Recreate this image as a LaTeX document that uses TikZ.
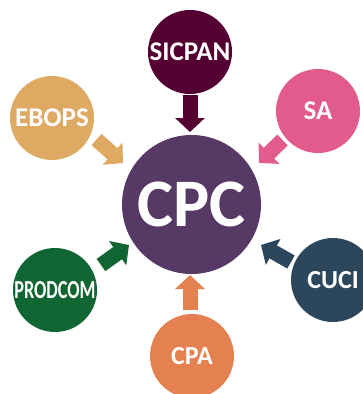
\documentclass[tikz,border=0pt]{standalone}
\usepackage{fontspec}
\setmainfont{Carlito}
\usetikzlibrary{arrows.meta}
\definecolor{cSicpan}{HTML}{540032}
\definecolor{cEbops}{HTML}{DDA963}
\definecolor{cSa}{HTML}{E15B8C}
\definecolor{cCpc}{HTML}{573966}
\definecolor{cProdcom}{HTML}{106633}
\definecolor{cCpa}{HTML}{E38250}
\definecolor{cCuci}{HTML}{2C475B}
\tikzset{
  bubble/.style={circle, inner sep=0pt, minimum size=84pt, text=white, font=\bfseries\fontsize{27}{27}\selectfont},
  bigbubble/.style={circle, inner sep=0pt, minimum size=139pt, text=white, font=\bfseries\fontsize{68}{68}\selectfont},
  blockarrow/.style={line width=15pt, -{Triangle[width=29pt,length=14pt]}}
}
\begin{document}
\begin{tikzpicture}[x=1pt,y=-1pt]
\useasboundingbox (0,0) rectangle (363,394);
\clip (0,0) rectangle (363,394);
% nodes
\node[bigbubble, fill=cCpc] (cpc) at (191.5,204.5) {CPC};
\node[bubble, fill=cSicpan] (sicpan) at (190,52) {SICPAN};
\node[bubble, fill=cEbops] (ebops) at (52,118) {EBOPS};
\node[bubble, fill=cSa] (sa) at (318,111) {SA};
\node[bubble, fill=cProdcom, font=\bfseries\fontsize{26}{26}\selectfont] (prodcom) at (55,290) {\scalebox{0.7}[1]{PRODCOM}};
\node[bubble, fill=cCuci, font=\bfseries\fontsize{26}{26}\selectfont] (cuci) at (333,280) {CUCI};
\node[bubble, fill=cCpa, font=\bfseries\fontsize{26}{26}\selectfont] (cpa) at (192,356) {CPA};
% arrow end points
\coordinate (sicpanT) at (190,95);
\coordinate (sicpanH) at (190,132);
\coordinate (ebopsT) at (96.5,139.5);
\coordinate (ebopsH) at (123,163);
\coordinate (saT) at (282.5,140);
\coordinate (saH) at (259,163);
\coordinate (prodcomT) at (101,265);
\coordinate (prodcomH) at (129,245);
\coordinate (cuciT) at (291,262);
\coordinate (cuciH) at (261,245);
\coordinate (cpaT) at (190,310);
\coordinate (cpaH) at (190,275);
% arrows
\draw[blockarrow, cSicpan] (sicpanT) -- (sicpanH);
\draw[blockarrow, cEbops] (ebopsT) -- (ebopsH);
\draw[blockarrow, cSa] (saT) -- (saH);
\draw[blockarrow, cProdcom] (prodcomT) -- (prodcomH);
\draw[blockarrow, cCuci] (cuciT) -- (cuciH);
\draw[blockarrow, cCpa] (cpaT) -- (cpaH);
\end{tikzpicture}
\end{document}
